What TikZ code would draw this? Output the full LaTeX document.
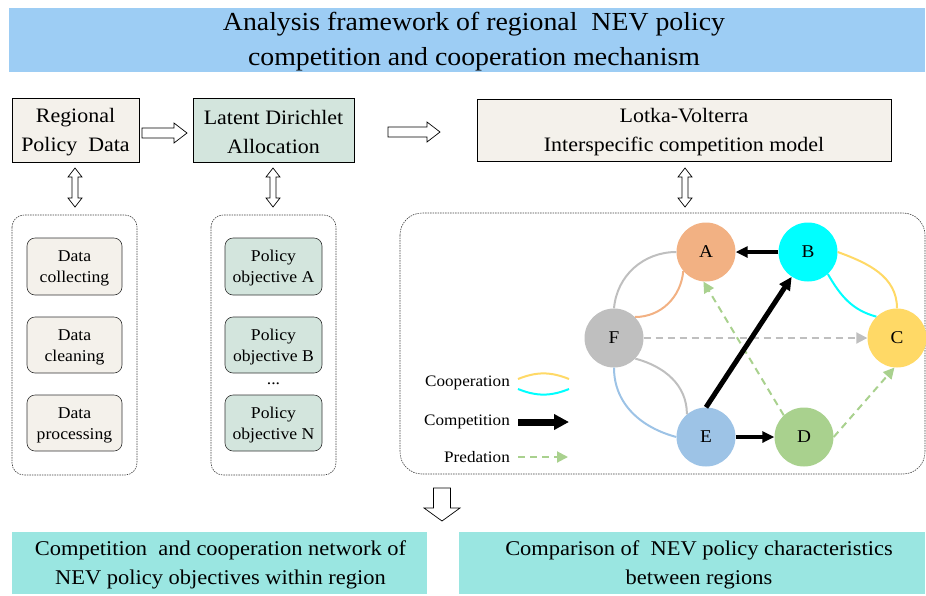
\documentclass[tikz,border=0pt]{standalone}
\usepackage{fontspec}
\setmainfont{Liberation Serif}[FakeStretch=1.07]
\usetikzlibrary{arrows.meta}

\definecolor{bandblue}{HTML}{9DCDF4}
\definecolor{paper}{HTML}{F4F1EB}
\definecolor{sage}{HTML}{D3E5DD}
\definecolor{aqua}{HTML}{9AE6E1}
\definecolor{cA}{HTML}{F2B183}
\definecolor{cB}{HTML}{00FFFF}
\definecolor{cC}{HTML}{FFD966}
\definecolor{cD}{HTML}{A9D18E}
\definecolor{cE}{HTML}{9DC3E6}
\definecolor{cF}{HTML}{BFBFBF}

% invisible rule that lowers a text block a little inside its box
\newcommand\toppad[1]{\rule{0pt}{#1}}

\tikzset{
  band/.style={fill=bandblue, draw=none, minimum width=916pt, minimum height=64pt,
    inner sep=0pt},
  bigtext/.style={font=\fontsize{26}{35}\selectfont, align=center, inner sep=0pt},
  mainbox/.style={draw=black, line width=0.7pt, minimum height=64pt,
    font=\fontsize{20.5}{29}\selectfont, align=center, inner sep=0pt},
  subbox/.style={draw=black!80, line width=0.6pt, rounded corners=8pt,
    minimum height=57pt, font=\fontsize{16.5}{21}\selectfont, align=center, inner sep=0pt},
  frame/.style={draw=black!75, line width=0.6pt, dash pattern=on 1.5pt off 1pt},
  outbox/.style={fill=aqua, draw=none, minimum height=62pt, inner sep=0pt},
  outtext/.style={font=\fontsize{21}{29}\selectfont, align=center, inner sep=0pt},
  hollow/.style={draw=black, line width=0.7pt, fill=white},
  pics/harrow/.style n args={4}{code={
    \draw[hollow] (0,-#2) -- ({#1-#4},-#2) -- ({#1-#4},-#3) -- (#1,0)
      -- ({#1-#4},#3) -- ({#1-#4},#2) -- (0,#2) -- cycle;}},
  pics/hdarrow/.style n args={4}{code={
    \draw[hollow] (#4,-#2) -- ({#1-#4},-#2) -- ({#1-#4},-#3) -- (#1,0)
      -- ({#1-#4},#3) -- ({#1-#4},#2) -- (#4,#2) -- (#4,#3) -- (0,0)
      -- (#4,-#3) -- cycle;}},
  species/.style={circle, draw=none, minimum size=59pt, inner sep=0pt,
    font=\fontsize{18}{18}\selectfont},
  coop/.style={line width=2pt},
  compete/.style={draw=black, line width=3.5pt,
    -{Triangle[length=12pt,width=11pt]}},
  prey/.style={line width=2pt, dash pattern=on 7pt off 5pt,
    -{Triangle[length=11pt,width=11pt]}},
  legend/.style={anchor=east, font=\fontsize{16}{16}\selectfont, inner sep=0pt},
}

\begin{document}
\begin{tikzpicture}[x=1pt,y=1pt]
\useasboundingbox (0,0) rectangle (926,-595);

% title band
\node[band] (band) at (467,-40) {};
\node[bigtext] (title) at (474,-41.5)
  {Analysis framework of regional~~NEV policy\\competition and cooperation mechanism};

% first row of processing steps
\node[mainbox, fill=paper, minimum width=127pt] (reg) at (75.5,-130)
  {\toppad{18pt}Regional\\Policy~~Data};
\node[mainbox, fill=sage, minimum width=161pt] (lda) at (273.5,-130)
  {\toppad{18pt}Latent Dirichlet\\Allocation};
\node[mainbox, fill=paper, minimum width=414pt, minimum height=62pt] (lv) at (684,-130)
  {\toppad{18pt}Lotka-Volterra\\Interspecific competition model};

% hollow arrows between the steps
\pic at (142,-133) {harrow={45}{5}{10}{13}};
\pic at (388,-132) {harrow={52}{5}{10}{13}};
\pic[rotate=90] at (75,-207) {hdarrow={39}{3}{7}{9}};
\pic[rotate=90] at (273,-207) {hdarrow={39}{3}{7}{9}};
\pic[rotate=90] at (685,-207) {hdarrow={39}{3}{7}{9}};

% dashed containers
\draw[frame, rounded corners=12pt] (12,-215) rectangle (137,-475);
\draw[frame, rounded corners=12pt] (211,-215) rectangle (336,-475);
\draw[frame, rounded corners=22pt] (400,-213) rectangle (925,-474);

% data preparation steps
\node[subbox, fill=paper, minimum width=95pt] (s1) at (74.5,-266.5) {\toppad{15pt}Data\\collecting};
\node[subbox, fill=paper, minimum width=95pt, minimum height=56pt] (s2) at (74.5,-345) {\toppad{15pt}Data\\cleaning};
\node[subbox, fill=paper, minimum width=95pt, minimum height=56pt] (s3) at (74.5,-423) {\toppad{15pt}Data\\processing};

% policy objectives
\node[subbox, fill=sage, minimum width=97pt] (o1) at (273.5,-266.5) {\toppad{15pt}Policy\\objective A};
\node[subbox, fill=sage, minimum width=97pt, minimum height=56pt] (o2) at (273.5,-345) {\toppad{15pt}Policy\\objective B};
\node[font=\fontsize{16.5}{16.5}\selectfont, inner sep=0pt] (dots) at (273.5,-384) {...};
\node[subbox, fill=sage, minimum width=97pt, minimum height=56pt] (o3) at (273.5,-423) {\toppad{15pt}Policy\\objective N};

% species network
\node[species, fill=cA] (A) at (706,-252) {A};
\node[species, fill=cB] (B) at (808,-252) {B};
\node[species, fill=cC] (C) at (897,-338) {C};
\node[species, fill=cD] (D) at (804,-437) {D};
\node[species, fill=cE] (E) at (706,-437) {E};
\node[species, fill=cF] (F) at (614,-338) {F};

% cooperation links
\draw[coop, cF] (F.north) to[out=85,in=180] (A.west);
\draw[coop, cA] (F.45) to[out=0,in=-95] (A.220);
\draw[coop, cC] (B.east) to[out=-20,in=90] (C.north);
\draw[coop, cB] (B.-48) to[out=-60,in=165] (C.134);
\draw[coop, cF] (F.-44) to[out=-15,in=90] (E.130);
\draw[coop, cE] (F.south) to[out=-90,in=165] (E.west);

% predation links
\draw[prey, cF] (F.east) -- (C.west);
\draw[prey, cD] (D.133) -- (A.-95);
\draw[prey, cD] (D.east) -- (C.-95);

% competition links
\draw[compete] (B.west) -- (A.east);
\draw[compete, line width=5pt, -{Triangle[length=13pt,width=12pt]}] (E.north) -- (B);
\draw[compete] (E.east) -- (D.west);

% legend
\node[legend] (lcoop) at (510,-383) {Cooperation};
\node[legend] (lcomp) at (510,-422) {Competition};
\node[legend] (lpred) at (510,-457) {Predation};
\coordinate (k1a) at (518,-379);  \coordinate (k1b) at (569,-379);
\coordinate (k2a) at (518,-389);  \coordinate (k2b) at (569,-389);
\coordinate (k3a) at (518,-422);  \coordinate (k3b) at (569,-422);
\coordinate (k4a) at (518,-457);  \coordinate (k4b) at (568,-457);
\draw[coop, cC] (k1a) to[bend left=22] (k1b);
\draw[coop, cB] (k2a) to[bend right=22] (k2b);
\draw[draw=black, line width=7pt, -{Triangle[length=15pt,width=15pt]}] (k3a) -- (k3b);
\draw[prey, cD] (k4a) -- (k4b);

% results
\pic[rotate=-90] at (442,-488) {harrow={33}{8.5}{18}{13}};
\node[outbox, minimum width=415pt] (res1) at (219.5,-563) {};
\node[outtext] (res1t) at (220.5,-564.5)
  {Competition~~and cooperation network of\\NEV policy objectives within region};
\node[outbox, minimum width=466pt] (res2) at (692,-563) {};
\node[outtext] (res2t) at (699,-564.5)
  {Comparison of~~NEV policy characteristics\\between regions};
\end{tikzpicture}
\end{document}
